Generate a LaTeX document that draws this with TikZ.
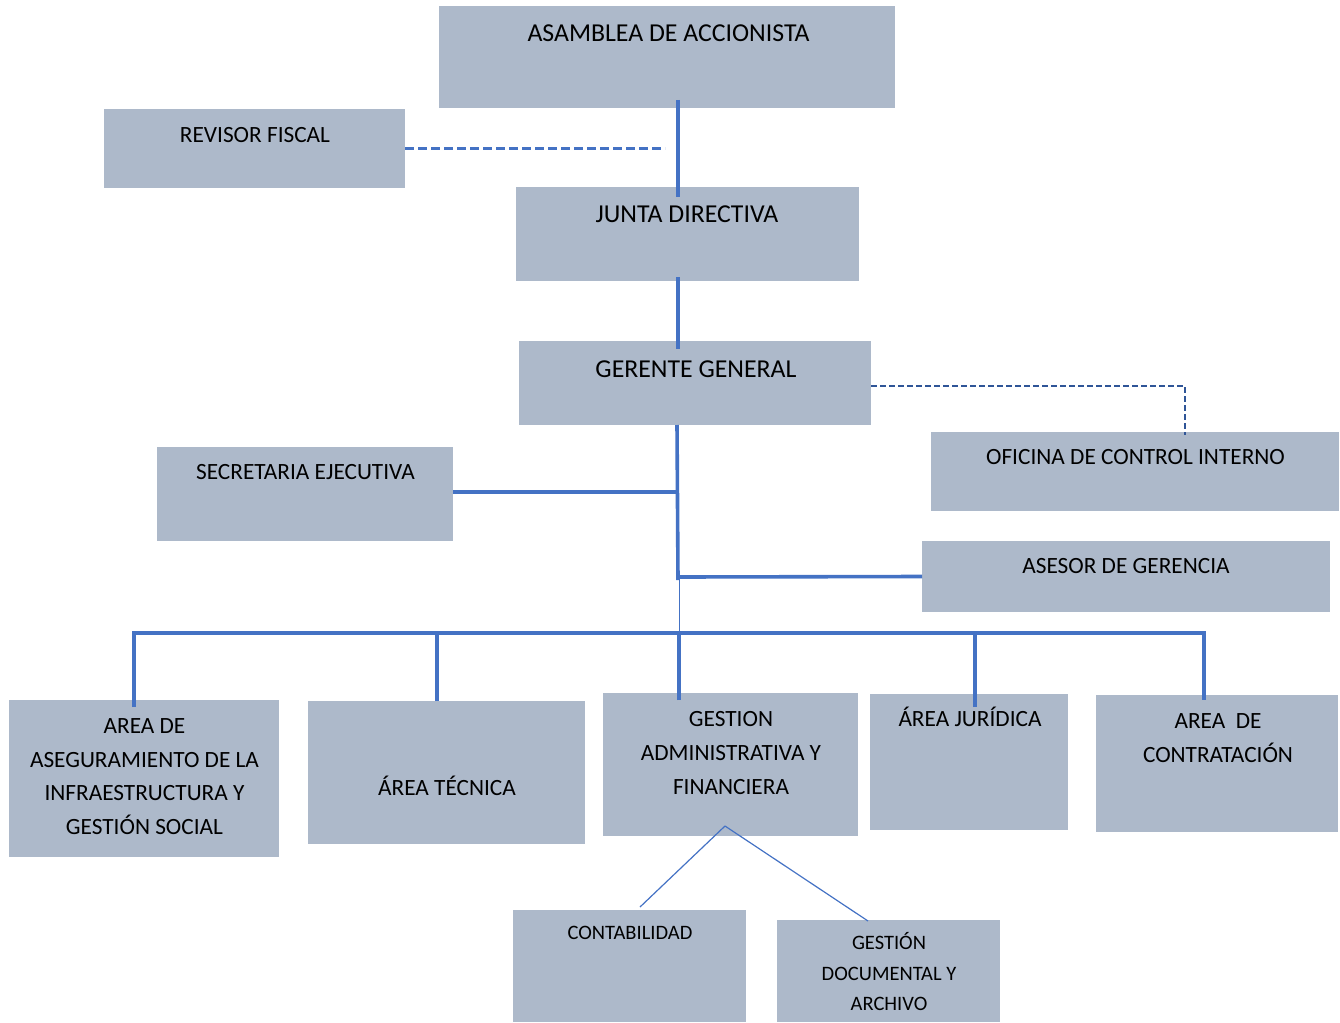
\documentclass[tikz,border=0pt]{standalone}
\usepackage{fontspec}
\setmainfont{Carlito}
\usetikzlibrary{calc}
\definecolor{boxfill}{HTML}{ADB9CA}
\definecolor{linkblue}{HTML}{4472C4}
\definecolor{darkdash}{HTML}{2F5597}
\tikzset{
 orgbox/.style={fill=boxfill, draw=none, inner sep=0pt, outer sep=0pt, anchor=north west},
 mainline/.style={draw=linkblue, line width=3.6pt},
 thinline/.style={draw=linkblue, line width=1.2pt},
 dashline/.style={draw=linkblue, line width=3pt, dash pattern=on 9pt off 4pt},
 darkdashline/.style={draw=darkdash, line width=2.2pt, dash pattern=on 6pt off 3pt},
 lbl/.style={anchor=base, inner sep=0pt, outer sep=0pt, text=black},
 bigf/.style={font=\fontsize{25.8}{31}\selectfont},
 midf/.style={font=\fontsize{23.3}{33.7}\selectfont},
 smallf/.style={font=\fontsize{20.5}{30.7}\selectfont},
}
\begin{document}
\begin{tikzpicture}[x=1pt,y=-1pt]
\useasboundingbox (0,0) rectangle (1340,1022);
% boxes
\node[orgbox, minimum width=456pt, minimum height=102pt] (asam) at (439,6) {};
\node[orgbox, minimum width=301pt, minimum height=79pt] (rev) at (104,109) {};
\node[orgbox, minimum width=343pt, minimum height=94pt] (junta) at (516,187) {};
\node[orgbox, minimum width=352pt, minimum height=84pt] (ger) at (519,341) {};
\node[orgbox, minimum width=296pt, minimum height=94pt] (sec) at (157,447) {};
\node[orgbox, minimum width=408pt, minimum height=79pt] (ofi) at (931,432) {};
\node[orgbox, minimum width=408pt, minimum height=71pt] (ase) at (922,541) {};
\node[orgbox, minimum width=270pt, minimum height=157pt] (aseg) at (9,700) {};
\node[orgbox, minimum width=277pt, minimum height=143pt] (tec) at (308,701) {};
\node[orgbox, minimum width=255pt, minimum height=143pt] (gest) at (603,693) {};
\node[orgbox, minimum width=198pt, minimum height=136pt] (jur) at (870,694) {};
\node[orgbox, minimum width=242pt, minimum height=137pt] (contr) at (1096,695) {};
\node[orgbox, minimum width=233pt, minimum height=112pt] (cont) at (513,910) {};
\node[orgbox, minimum width=223pt, minimum height=102pt] (gdoc) at (777,920) {};
% connectors
\coordinate (busL) at ($(aseg.north)+(-10,-67)$);
\coordinate (busR) at ($(contr.north)+(-13,-62)$);
\draw[mainline] ($(asam.south)+(11,-8)$) -- ($(junta.north)+(-9.5,10)$);
\draw[dashline] (rev.east) -- ($(rev.east)+(260,0)$);
\draw[mainline] ($(junta.south)+(-9.5,-4)$) -- ($(ger.north)+(-17,8)$);
\draw[darkdashline] ($(ger.east)+(0,3)$) -| ($(ofi.north)+(50,3)$);
\draw[mainline] ($(ger.south)+(-18,0)$) -- ($(ger.south)+(-17,155)$);
\draw[thinline, line width=1pt] ($(ger.south)+(-16,153)$) -- ($(gest.north)+(-51.5,-60)$);
\draw[mainline] ($(sec.east)+(0,-2)$) -- ($(ger.south)+(-17.5,67)$);
\draw[mainline] (ase.west) -- ($(ger.south)+(-17,152)$);
\draw[mainline] ($(aseg.north)+(-10,7)$) -- (busL) -- (busR) -- ($(contr.north)+(-13,5)$);
\draw[mainline] ($(tec.north)+(-9.5,0)$) -- ($(tec.north)+(-9.5,-68)$);
\draw[mainline] ($(gest.north)+(-51.5,7)$) -- ($(gest.north)+(-51.5,-60)$);
\draw[mainline] ($(jur.north)+(6,13)$) -- ($(jur.north)+(6,-61)$);
\draw[thinline] ($(gest.south)+(-5.5,-10)$) -- ($(cont.north)+(10.5,-3)$);
\draw[thinline] ($(gest.south)+(-5.5,-10)$) -- ($(gdoc.north)+(-20.5,1)$);
% labels
\node[lbl, bigf] (tasam) at (668.5,41.3) {ASAMBLEA DE ACCIONISTA};
\node[lbl, midf] (trev) at (255,142.5) {REVISOR FISCAL};
\node[lbl, bigf] (tjunta) at (687,222.3) {JUNTA DIRECTIVA};
\node[lbl, bigf] (tger) at (696,377.3) {GERENTE GENERAL};
\node[lbl, midf] (tsec) at (305.5,479.5) {SECRETARIA EJECUTIVA};
\node[lbl, midf] (tofi) at (1135.5,464.5) {OFICINA DE CONTROL INTERNO};
\node[lbl, midf] (tase) at (1126,573.5) {ASESOR DE GERENCIA};
\node[lbl, midf] (taseg) at (144.5,733.3) {\begin{tabular}[t]{@{}c@{}}AREA DE\\ASEGURAMIENTO DE LA\\INFRAESTRUCTURA Y\\GESTIÓN SOCIAL\end{tabular}};
\node[lbl, midf] (ttec) at (447,795) {ÁREA TÉCNICA};
\node[lbl, midf] (tgest) at (731,726.7) {\begin{tabular}[t]{@{}c@{}}GESTION\\ADMINISTRATIVA Y\\FINANCIERA\end{tabular}};
\node[lbl, midf] (tjur) at (970,726.7) {ÁREA JURÍDICA};
\node[lbl, midf] (tcontr) at (1218,728.7) {\begin{tabular}[t]{@{}c@{}}AREA\ \ DE\\CONTRATACIÓN\end{tabular}};
\node[lbl, smallf] (tcont) at (630,939.3) {CONTABILIDAD};
\node[lbl, smallf] (tgdoc) at (889,949.3) {\begin{tabular}[t]{@{}c@{}}GESTIÓN\\DOCUMENTAL Y\\ARCHIVO\end{tabular}};
\end{tikzpicture}
\end{document}
